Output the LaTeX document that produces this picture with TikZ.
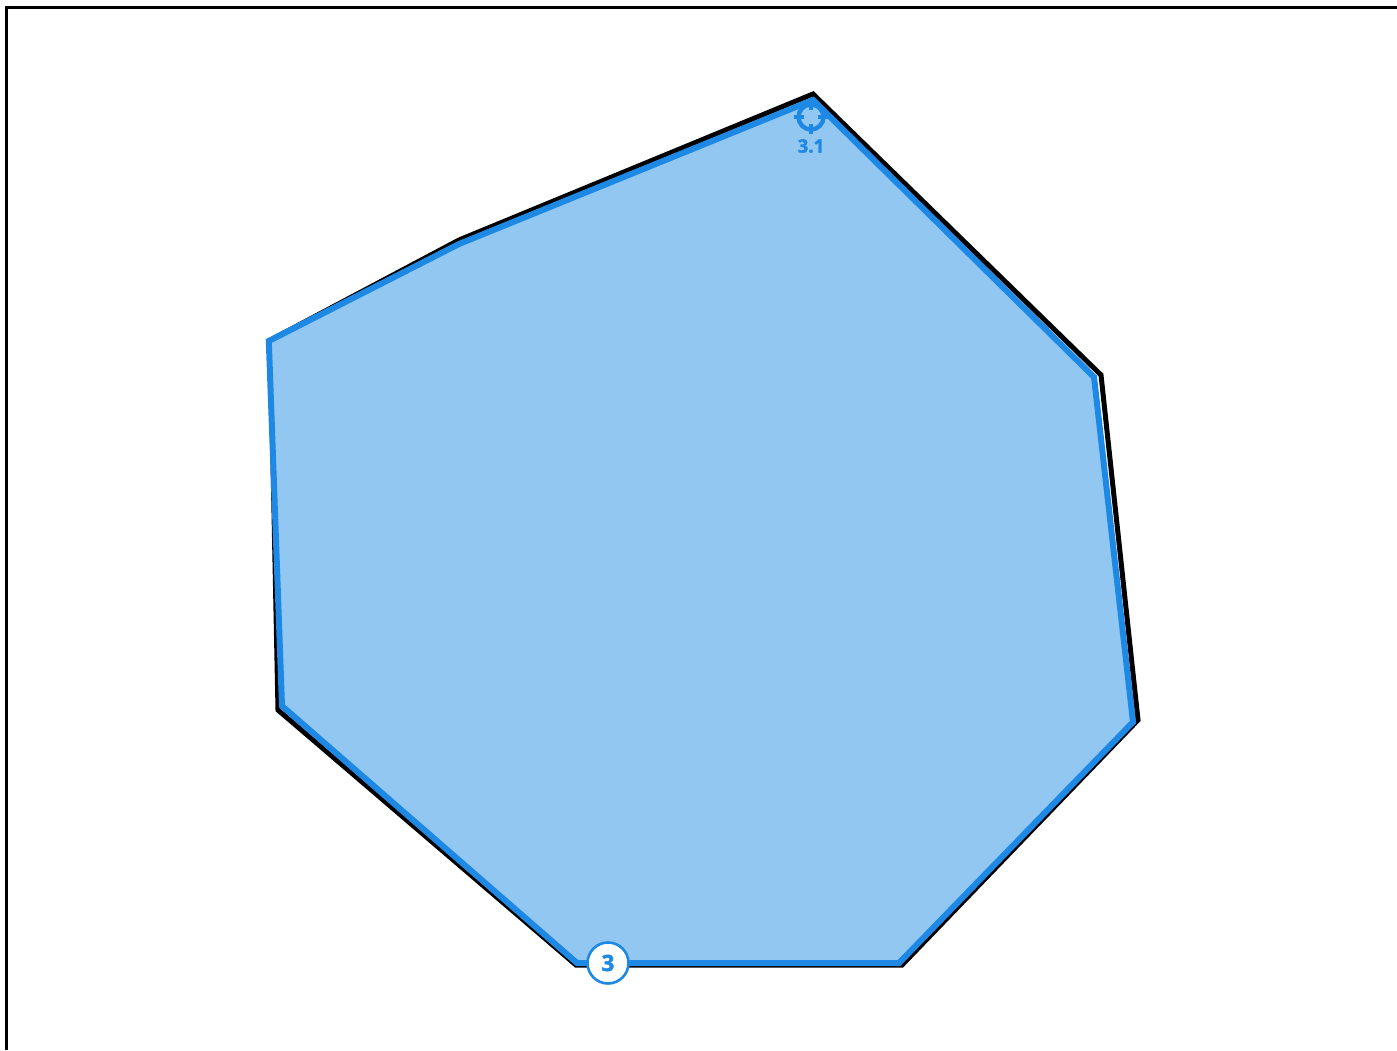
\documentclass[tikz,border=0pt]{standalone}
\usepackage{fontspec}
\setmainfont{Open Sans}[BoldFeatures={FakeBold=2}]
\definecolor{bluemain}{HTML}{1E88E5}
\definecolor{bluefill}{HTML}{91C7F1}
\tikzset{
  x=1pt,y=-1pt,
  blackshape/.style={draw=black,line width=5pt,line join=miter,fill=white},
  blueshape/.style={draw=bluemain,line width=6pt,line join=miter,fill=bluefill},
  badge/.style={circle,draw=bluemain,line width=2.6pt,fill=white,text=bluemain,minimum size=41pt,inner sep=0pt,font=\fontsize{22.5}{22.5}\selectfont\bfseries},
  smalllabel/.style={text=bluemain,inner sep=0pt,font=\fontsize{18.5}{18.5}\selectfont\bfseries},
  ring/.style={circle,draw=bluemain,line width=4.4pt,minimum size=25pt,inner sep=0pt},
  tick/.style={draw=bluemain,line width=3.8pt}
}
\begin{document}
\begin{tikzpicture}
\useasboundingbox (0,0) rectangle (1397,1050);
\draw[black,line width=3pt] (6,1050) -- (6,7) -- (1397,7);
\draw[blackshape] (813,94) -- (1101,375) -- (1138,720) -- (902,965) -- (576,965) -- (278,710) -- (270.5,340) -- (459,240) -- cycle;
\draw[blueshape] (813,100) -- (1094,377) -- (1133,722) -- (899,963) -- (577,963) -- (282,706) -- (268.8,341) -- (459,244) -- cycle;
\node[ring] (target) at (811,117) {};
\draw[tick] (target.center) ++(0,-7) -- ++(0,-10);
\draw[tick] (target.center) ++(0,7) -- ++(0,10);
\draw[tick] (target.center) ++(-7,0) -- ++(-10,0);
\draw[tick] (target.center) ++(7,0) -- ++(10,0);
\node[smalllabel] (sublabel) at (811,146) {3.1};
\node[badge] (main) at (608,963) {3};
\end{tikzpicture}
\end{document}
